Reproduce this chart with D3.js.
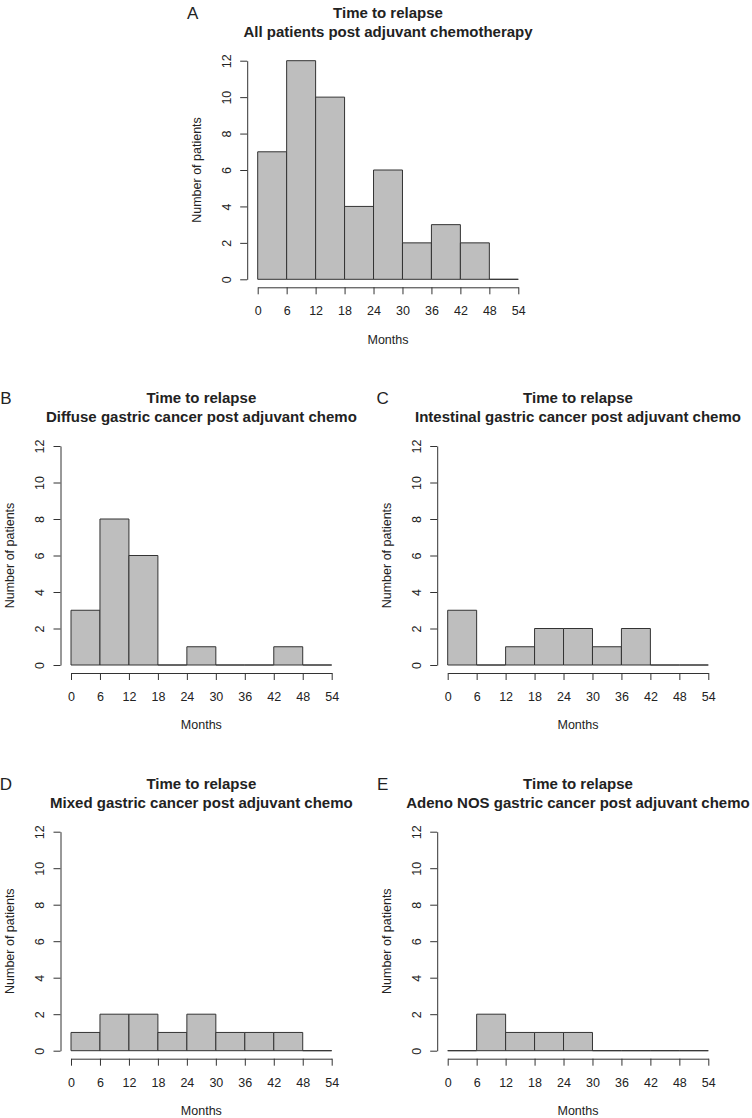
<!DOCTYPE html>
<html>
<head>
<meta charset="utf-8">
<script src="https://cdn.jsdelivr.net/npm/d3@7"></script>
<style>
  html, body { margin: 0; padding: 0; background: #fff; }
  svg { display: block; font-family: "Liberation Sans", Arial, sans-serif; }
</style>
</head>
<body>
<svg id="chart" width="752" height="1118"></svg>
<script>
// ---- Data ----
const binEdges = [0, 6, 12, 18, 24, 30, 36, 42, 48, 54];
const xTicks = [0, 6, 12, 18, 24, 30, 36, 42, 48, 54];
const yTicks = [0, 2, 4, 6, 8, 10, 12];
const panelLetters = ["A", "B", "C", "D", "E"];
const titleLine1 = ["Time to relapse", "Time to relapse", "Time to relapse", "Time to relapse", "Time to relapse"];
const titleLine2 = [
  "All patients post adjuvant chemotherapy",
  "Diffuse gastric cancer post adjuvant chemo",
  "Intestinal gastric cancer post adjuvant chemo",
  "Mixed gastric cancer post adjuvant chemo",
  "Adeno NOS gastric cancer post adjuvant chemo"
];
const countsAll = [7, 12, 10, 4, 6, 2, 3, 2, 0];
const countsDiffuse = [3, 8, 6, 0, 1, 0, 0, 1, 0];
const countsIntestinal = [3, 0, 1, 2, 2, 1, 2, 0, 0];
const countsMixed = [1, 2, 2, 1, 2, 1, 1, 1, 0];
const countsAdeno = [0, 2, 1, 1, 1, 0, 0, 0, 0];
const seriesCounts = [countsAll, countsDiffuse, countsIntestinal, countsMixed, countsAdeno];
const xLabel = "Months";
const yLabel = "Number of patients";

// ---- Layout (plot region: x of 0 / 54, y of 12 / 0) ----
const layout = [
  { x0: 257.7, x1: 518.3, yTop: 60.7, yBot: 279.3 },
  { x0: 71,    x1: 331.7, yTop: 446,  yBot: 665 },
  { x0: 447.7, x1: 708.3, yTop: 446,  yBot: 665 },
  { x0: 71,    x1: 331.7, yTop: 831.7, yBot: 1050.7 },
  { x0: 447.7, x1: 708.3, yTop: 831.7, yBot: 1050.7 }
];

const lineColor = "#333";
const textColor = "#222";
const barFill = "#bebebe";
const svg = d3.select("#chart");

layout.forEach((L, i) => {
  const g = svg.append("g");
  const x = d3.scaleLinear().domain([0, 54]).range([L.x0, L.x1]);
  const y = d3.scaleLinear().domain([0, 12]).range([L.yBot, L.yTop]);
  const counts = seriesCounts[i];
  const bins = counts.map((c, k) => ({ lo: binEdges[k], hi: binEdges[k + 1], c }));

  // bars (as paths so that empty bins still show a baseline, like R's hist)
  g.selectAll("path.bar").data(bins).join("path")
    .attr("class", "bar")
    .attr("d", d => {
      const p = d3.path();
      p.moveTo(x(d.lo), y(0));
      p.lineTo(x(d.lo), y(d.c));
      p.lineTo(x(d.hi), y(d.c));
      p.lineTo(x(d.hi), y(0));
      p.closePath();
      return p.toString();
    })
    .attr("fill", barFill)
    .attr("stroke", lineColor)
    .attr("stroke-width", 1);

  // x axis
  const xAxisY = L.yBot + 8;
  const xa = g.append("g")
    .attr("transform", `translate(0,${xAxisY})`)
    .call(d3.axisBottom(x).tickValues(xTicks).tickSize(7).tickSizeOuter(0).tickFormat(d3.format("d")));
  xa.select(".domain").attr("stroke", lineColor);
  xa.selectAll(".tick line").attr("stroke", lineColor);
  xa.selectAll(".tick text")
    .attr("y", 23.5).attr("dy", "0.35em")
    .attr("fill", textColor)
    .style("font-size", "12.5px")
    .style("font-family", "'Liberation Sans', Arial, sans-serif");

  // y axis
  const yAxisX = L.x0 - 10.5;
  const ya = g.append("g")
    .attr("transform", `translate(${yAxisX},0)`)
    .call(d3.axisLeft(y).tickValues(yTicks).tickSize(7).tickSizeOuter(0).tickFormat(d3.format("d")));
  ya.select(".domain").attr("stroke", lineColor);
  ya.selectAll(".tick line").attr("stroke", lineColor);
  ya.selectAll(".tick text")
    .attr("x", null).attr("dy", null)
    .attr("transform", "translate(-21,0) rotate(-90)")
    .attr("text-anchor", "middle")
    .attr("dy", "0.35em")
    .attr("fill", textColor)
    .style("font-size", "12.5px")
    .style("font-family", "'Liberation Sans', Arial, sans-serif");

  // axis titles
  g.append("text")
    .attr("x", (L.x0 + L.x1) / 2).attr("y", xAxisY + 52)
    .attr("dy", "0.35em").attr("text-anchor", "middle")
    .attr("fill", textColor).style("font-size", "12.5px")
    .text(xLabel);
  g.append("text")
    .attr("transform", `translate(${yAxisX - 50.5},${(L.yTop + L.yBot) / 2}) rotate(-90)`)
    .attr("dy", "0.35em").attr("text-anchor", "middle")
    .attr("fill", textColor).style("font-size", "12.5px")
    .text(yLabel);

  // titles
  const cx = (L.x0 + L.x1) / 2;
  g.append("text")
    .attr("x", cx).attr("y", L.yTop - 48).attr("dy", "0.35em")
    .attr("text-anchor", "middle").attr("font-weight", "bold")
    .attr("fill", textColor).style("font-size", "15px")
    .text(titleLine1[i]);
  g.append("text")
    .attr("x", cx).attr("y", L.yTop - 29).attr("dy", "0.35em")
    .attr("text-anchor", "middle").attr("font-weight", "bold")
    .attr("fill", textColor).style("font-size", "15px")
    .text(titleLine2[i]);

  // panel letter
  g.append("text")
    .attr("x", L.x0 - 65).attr("y", L.yTop - 48).attr("dy", "0.35em")
    .attr("text-anchor", "middle")
    .attr("fill", textColor).style("font-size", "17px")
    .text(panelLetters[i]);
});
</script>
</body>
</html>
